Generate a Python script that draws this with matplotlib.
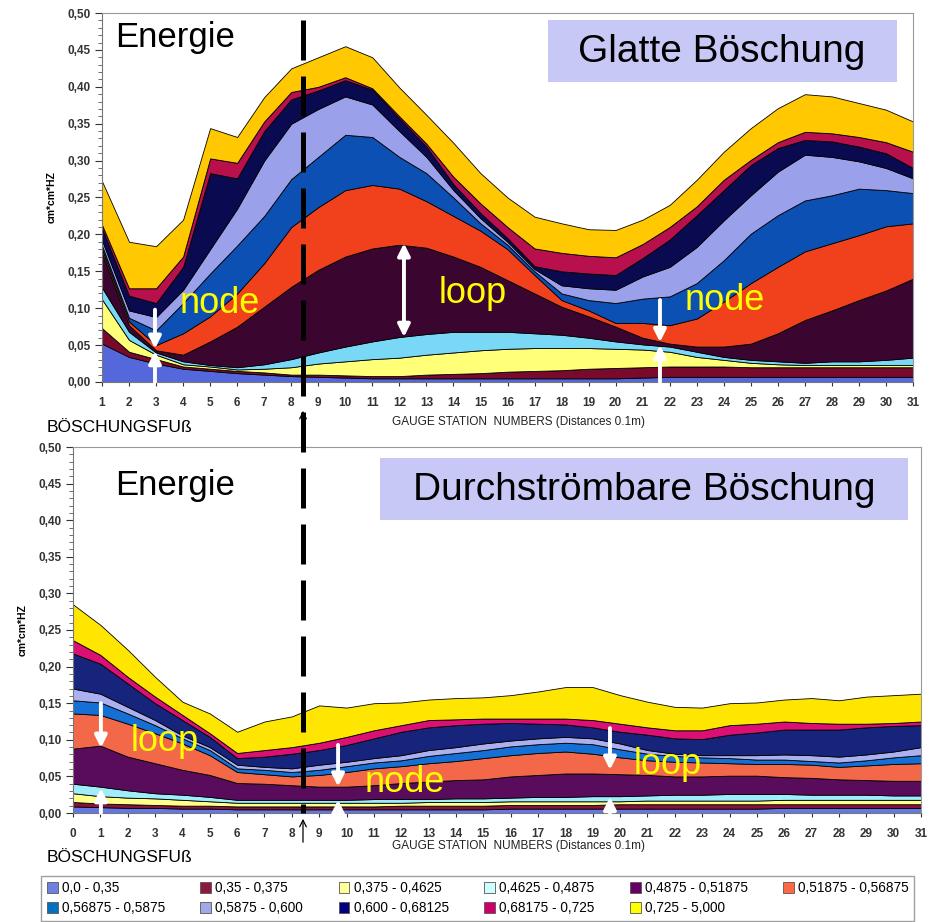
import numpy as np
import matplotlib
matplotlib.use("Agg")
import matplotlib.pyplot as plt
from matplotlib.ticker import FuncFormatter, MultipleLocator
from matplotlib.patches import Rectangle, Patch, FancyArrowPatch
from matplotlib.lines import Line2D

plt.rcParams['font.family'] = ['Liberation Sans', 'DejaVu Sans']

# --- data: cumulative upper edge of each band ---
bands = ["0,0 - 0,35", "0,35 - 0,375", "0,375 - 0,4625", "0,4625 - 0,4875",
         "0,4875 - 0,51875", "0,51875 - 0,56875", "0,56875 - 0,5875",
         "0,5875 - 0,600", "0,600 - 0,68125", "0,68175 - 0,725", "0,725 - 5,000"]

st_top = np.arange(1, 32)
top_L1 = [.052, .034, .025, .018, .015, .012, .010, .008, .007, .006, .005, .005, .005, .005, .005, .005,
          .005, .005, .005, .005, .006, .007, .007, .007, .007, .007, .007, .007, .007, .007, .007]
top_L2 = [.073, .041, .031, .021, .018, .015, .013, .010, .010, .009, .008, .008, .010, .011, .012, .014,
          .015, .016, .018, .019, .020, .021, .021, .021, .020, .020, .020, .020, .020, .020, .020]
top_L3 = [.112, .057, .037, .024, .021, .017, .018, .020, .025, .028, .031, .033, .037, .040, .043, .045,
          .046, .046, .046, .045, .044, .041, .034, .030, .026, .024, .023, .023, .023, .023, .023]
top_L4 = [.128, .068, .040, .028, .023, .020, .024, .031, .040, .048, .055, .061, .065, .068, .068, .068,
          .066, .064, .060, .055, .051, .048, .041, .034, .030, .028, .026, .028, .028, .030, .033]
top_L5 = [.175, .077, .043, .037, .055, .075, .102, .129, .152, .170, .181, .186, .182, .170, .156, .138,
          .120, .102, .089, .075, .060, .052, .048, .048, .052, .066, .084, .097, .111, .124, .140]
top_L6 = [.180, .082, .050, .066, .089, .120, .161, .210, .237, .260, .267, .262, .245, .225, .205, .180,
          .145, .111, .097, .080, .080, .077, .086, .109, .134, .156, .177, .188, .199, .211, .215]
top_L7 = [.185, .087, .070, .107, .147, .185, .225, .275, .305, .335, .332, .305, .283, .250, .215, .186,
          .150, .120, .111, .107, .113, .116, .134, .165, .201, .226, .246, .253, .262, .260, .256]
top_L8 = [.192, .097, .088, .125, .180, .235, .300, .350, .370, .387, .376, .340, .305, .260, .222, .190,
          .153, .131, .127, .125, .143, .156, .183, .219, .253, .285, .308, .305, .299, .290, .276]
top_L9 = [.208, .117, .107, .156, .283, .276, .340, .383, .395, .409, .396, .357, .319, .268, .229, .195,
          .157, .150, .147, .145, .168, .193, .226, .260, .294, .317, .328, .326, .319, .310, .290]
top_L10 = [.213, .127, .127, .170, .303, .297, .353, .393, .400, .413, .398, .360, .323, .278, .242, .210,
           .181, .175, .171, .169, .187, .210, .238, .274, .301, .325, .339, .337, .332, .325, .312]
top_L11 = [.272, .190, .184, .220, .344, .332, .386, .425, .440, .455, .440, .399, .362, .324, .283, .250,
           .224, .215, .207, .206, .220, .240, .274, .312, .344, .371, .390, .387, .378, .369, .353]

st_bot = np.arange(0, 32)
bot_L1 = [.009, .008, .007, .007, .006, .006, .005, .005, .005, .005, .005, .005, .005, .005, .005, .005,
          .006, .006, .006, .006, .006, .006, .006, .006, .006, .006, .007, .007, .007, .007, .007, .007]
bot_L2 = [.015, .013, .012, .011, .010, .010, .009, .009, .009, .009, .009, .009, .010, .010, .010, .010,
          .011, .011, .011, .011, .012, .012, .012, .012, .012, .012, .012, .012, .012, .012, .012, .012]
bot_L3 = [.027, .023, .021, .020, .018, .016, .014, .014, .014, .014, .014, .014, .014, .015, .015, .015,
          .016, .016, .016, .016, .016, .017, .017, .017, .017, .017, .018, .018, .018, .018, .018, .018]
bot_L4 = [.040, .036, .031, .027, .025, .022, .018, .018, .018, .018, .018, .019, .019, .019, .020, .020,
          .021, .022, .022, .023, .023, .024, .025, .025, .026, .026, .026, .025, .025, .025, .024, .024]
bot_L5 = [.088, .092, .077, .068, .059, .052, .041, .040, .038, .036, .036, .038, .041, .043, .045, .046,
          .050, .052, .054, .054, .053, .052, .050, .050, .051, .051, .049, .048, .046, .045, .044, .044]
bot_L6 = [.136, .134, .122, .109, .095, .079, .056, .053, .050, .052, .056, .061, .064, .068, .071, .075,
          .079, .082, .084, .081, .076, .072, .070, .069, .068, .067, .067, .066, .063, .065, .067, .068]
bot_L7 = [.154, .151, .136, .120, .102, .086, .061, .059, .056, .059, .064, .069, .072, .078, .082, .086,
          .091, .094, .096, .094, .087, .081, .078, .076, .075, .073, .073, .071, .069, .072, .076, .079]
bot_L8 = [.170, .163, .145, .127, .106, .090, .066, .063, .061, .066, .070, .075, .079, .086, .090, .095,
          .099, .102, .104, .102, .095, .086, .081, .079, .079, .079, .080, .079, .077, .080, .084, .090]
bot_L9 = [.218, .204, .177, .150, .127, .104, .075, .077, .081, .086, .093, .102, .111, .117, .120, .122,
          .123, .122, .121, .117, .111, .107, .102, .101, .107, .110, .114, .114, .114, .117, .119, .120]
bot_L10 = [.236, .216, .186, .159, .134, .109, .082, .086, .090, .096, .104, .113, .120, .127, .128, .129,
           .129, .129, .129, .127, .122, .117, .113, .113, .120, .122, .125, .123, .122, .122, .123, .125]
bot_L11 = [.285, .257, .223, .186, .152, .136, .111, .125, .132, .147, .144, .150, .151, .155, .157, .158,
           .161, .166, .172, .172, .161, .152, .145, .144, .150, .151, .155, .157, .154, .159, .161, .163]

top_cols = ["#5468dc", "#7a0a2c", "#ffff78", "#78d8f6", "#3a0630", "#f0401c",
            "#0c50b4", "#9aa0ea", "#0a0a50", "#b8104c", "#ffc800"]
bot_cols = ["#6478e4", "#8a1238", "#ffff8c", "#a0ecfc", "#5a0c5c", "#f4684a",
            "#1470d4", "#aab0f0", "#16247c", "#dc1074", "#ffe600"]
leg_cols = ["#7080e0", "#8c1a3c", "#ffff99", "#ccffff", "#660066", "#ff6644",
            "#0070c0", "#a0a8e8", "#000080", "#cc0066", "#ffff00"]

W, H = 944, 922
fig = plt.figure(figsize=(W / 100, H / 100), dpi=100)


def fx(p):
    return p / W


def fy(p):
    return 1 - p / H


comma = FuncFormatter(lambda v, pos: ("%.2f" % v).replace(".", ","))


def panel(rect, st, cum, cols, xmin):
    ax = fig.add_axes(rect)
    cum = np.array(cum)
    layers = np.diff(np.vstack([np.zeros(len(st)), cum]), axis=0)
    ax.stackplot(st, layers, colors=cols, edgecolor="black", linewidth=0.6)
    ax.set_xlim(xmin, 31)
    ax.set_ylim(0, 0.5)
    ax.set_xticks(st)
    ax.yaxis.set_major_locator(MultipleLocator(0.05))
    ax.yaxis.set_minor_locator(MultipleLocator(0.01))
    ax.yaxis.set_major_formatter(comma)
    ax.tick_params(axis="y", which="major", length=5, labelsize=8.5, colors="#333333", pad=3)
    ax.tick_params(axis="y", which="minor", length=3, colors="#555555")
    ax.tick_params(axis="x", length=3, labelsize=8.5, colors="#333333", pad=8)
    for lab in ax.get_xticklabels() + ax.get_yticklabels():
        lab.set_fontweight("bold")
    for s in ["top", "right"]:
        ax.spines[s].set_color("#999999")
    ax.spines["left"].set_color("#777777")
    ax.spines["bottom"].set_color("#777777")
    ax.set_ylabel("cm*cm*HZ", fontsize=7.5, fontweight="bold", labelpad=8)
    return ax


ax1 = panel([fx(102), fy(382), fx(913 - 102), (382 - 13) / H], st_top,
            [top_L1, top_L2, top_L3, top_L4, top_L5, top_L6, top_L7, top_L8, top_L9, top_L10, top_L11],
            top_cols, 1)
ax2 = panel([fx(73), fy(813), fx(921 - 73), (813 - 447) / H], st_bot,
            [bot_L1, bot_L2, bot_L3, bot_L4, bot_L5, bot_L6, bot_L7, bot_L8, bot_L9, bot_L10, bot_L11],
            bot_cols, 0)

# titles / boxes
fig.text(fx(115), fy(38), "Energie", fontsize=25, va="center", ha="left")
fig.text(fx(115), fy(486), "Energie", fontsize=25, va="center", ha="left")
fig.add_artist(Rectangle((fx(548), fy(82)), fx(897 - 548), (82 - 20) / H,
                         transform=fig.transFigure, facecolor="#c8c8f6", edgecolor="none"))
fig.text(fx(722), fy(52), "Glatte Böschung", fontsize=28, va="center", ha="center")
fig.add_artist(Rectangle((fx(380), fy(520)), fx(908 - 380), (520 - 458) / H,
                         transform=fig.transFigure, facecolor="#c8c8f6", edgecolor="none"))
fig.text(fx(644), fy(490), "Durchströmbare Böschung", fontsize=28, va="center", ha="center")

for py in (422, 846):
    fig.text(fx(518), fy(py), "GAUGE STATION  NUMBERS (Distances 0.1m)", fontsize=8.5,
             ha="center", va="center", color="#222222")
for py in (428, 857):
    fig.text(fx(47), fy(py), "BÖSCHUNGSFUß", fontsize=12.5, ha="left", va="center")

# dashed marker line across both panels
fig.add_artist(Line2D([fx(303), fx(303)], [fy(20), fy(813)], transform=fig.transFigure,
                      color="black", lw=3.6, dashes=(8, 3.2)))
for y0, y1 in ((440, 408), (845, 816)):
    fig.add_artist(FancyArrowPatch((fx(303), fy(y0)), (fx(303), fy(y1)),
                                   transform=fig.transFigure, arrowstyle="->",
                                   mutation_scale=12, color="black", lw=0.9))


def warrow(ax, x, y0, y1, both=False):
    ax.annotate("", xy=(x, y1), xytext=(x, y0),
                arrowprops=dict(arrowstyle="<|-|>" if both else "-|>", color="white",
                                lw=2.8, mutation_scale=18, shrinkA=0, shrinkB=0))


warrow(ax1, 2.96, 0.098, 0.045)
warrow(ax1, 2.96, 0.0, 0.042)
warrow(ax1, 12.17, 0.061, 0.188, both=True)
warrow(ax1, 21.64, 0.111, 0.054)
warrow(ax1, 21.64, 0.0, 0.05)
ax1.text(5.37, 0.106, "node", fontsize=26, color="#ffff00", ha="center", va="center")
ax1.text(14.7, 0.12, "loop", fontsize=26, color="#ffff00", ha="center", va="center")
ax1.text(24.05, 0.110, "node", fontsize=26, color="#ffff00", ha="center", va="center")

warrow(ax2, 1.02, 0.150, 0.089)
warrow(ax2, 1.02, 0.0, 0.034)
warrow(ax2, 9.69, 0.093, 0.036)
warrow(ax2, 9.69, 0.0, 0.018)
warrow(ax2, 19.63, 0.116, 0.059)
warrow(ax2, 19.63, 0.0, 0.022)
ax2.text(3.36, 0.097, "loop", fontsize=26, color="#ffff00", ha="center", va="center")
ax2.text(12.14, 0.041, "node", fontsize=26, color="#ffff00", ha="center", va="center")
ax2.text(21.75, 0.066, "loop", fontsize=26, color="#ffff00", ha="center", va="center")

# legend, row-major order in 6 columns
handles = [Patch(facecolor=c, edgecolor="#555555", lw=0.6) for c in leg_cols]
order = [0, 6, 1, 7, 2, 8, 3, 9, 4, 10, 5]
fig.legend([handles[i] for i in order], [bands[i] for i in order], ncol=6,
           loc="lower left", bbox_to_anchor=(fx(40), fy(922)), fontsize=9.8,
           frameon=True, fancybox=False, edgecolor="#888888", handlelength=0.8,
           handleheight=0.8, handletextpad=0.3, columnspacing=2.6, labelspacing=0.45,
           borderpad=0.4, borderaxespad=0.1)

fig.savefig("out.png", dpi=100)
